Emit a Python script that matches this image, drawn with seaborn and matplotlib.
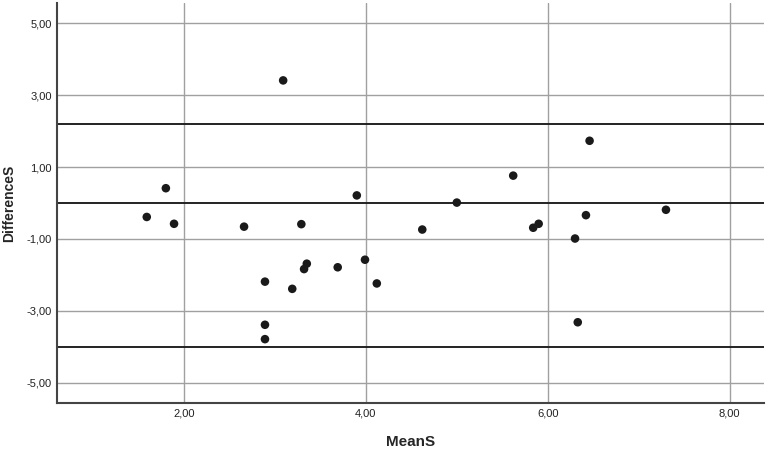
import pandas as pd
import matplotlib
matplotlib.use("Agg")
import matplotlib.pyplot as plt
import seaborn as sns

# values
mean_s = [1.59, 1.80, 1.89, 2.66, 2.89, 2.89, 2.89, 3.09, 3.19, 3.29,
          3.32, 3.35, 3.69, 3.90, 3.99, 4.12, 4.62, 5.00, 5.62, 5.84,
          5.90, 6.30, 6.33, 6.42, 6.46, 7.30]
diff_s = [-0.39, 0.41, -0.58, -0.66, -2.19, -3.39, -3.79, 3.41, -2.39, -0.59,
          -1.84, -1.69, -1.79, 0.21, -1.58, -2.24, -0.74, 0.01, 0.76, -0.69,
          -0.58, -0.99, -3.32, -0.34, 1.73, -0.19]
ref_lines = [2.19, 0.0, -4.0]   # upper limit, mean, lower limit
x_ticks = [2, 4, 6, 8]
y_ticks = [-5, -3, -1, 1, 3, 5]

df = pd.DataFrame({"MeanS": mean_s, "DifferenceS": diff_s})

sns.set_style("white")
plt.rcParams["font.family"] = ["Liberation Sans", "DejaVu Sans"]

fig = plt.figure(figsize=(7.68, 4.49), dpi=100)
ax = fig.add_axes([0.0746, 0.103, 0.9204, 0.890])

ax.set_xlim(0.606, 8.38)
ax.set_ylim(-5.56, 5.56)

ax.set_xticks(x_ticks)
ax.set_yticks(y_ticks)
ax.set_xticklabels([f"{v:.2f}".replace(".", ",") for v in x_ticks])
ax.set_yticklabels([f"{v:.2f}".replace(".", ",") for v in y_ticks])
ax.grid(True, color="#a0a0a0", linewidth=1.0)
ax.set_axisbelow(True)

for y in ref_lines:
    ax.axhline(y, color="#222222", linewidth=1.4, zorder=2)

sns.scatterplot(data=df, x="MeanS", y="DifferenceS", ax=ax, color="#1a1a1a",
                s=38, edgecolor="none", zorder=3)

ax.tick_params(axis="both", length=0, labelsize=8, pad=4, colors="#222222")
for side in ["top", "right"]:
    ax.spines[side].set_visible(False)
for side in ["left", "bottom"]:
    ax.spines[side].set_color("#444444")
    ax.spines[side].set_linewidth(1.5)

ax.set_xlabel("MeanS", fontsize=11, fontweight="bold", labelpad=12)
ax.set_ylabel("DifferenceS", fontsize=10, fontweight="bold")
ax.yaxis.set_label_coords(-0.058, 0.5)

fig.savefig("out.png", dpi=100)
